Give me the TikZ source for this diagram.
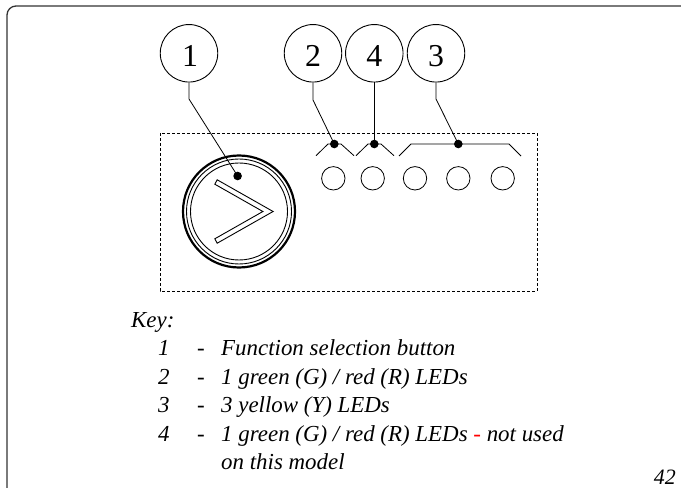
\documentclass[tikz,border=0pt]{standalone}
\usepackage{fontspec}
\setmainfont{Liberation Serif}
\usepackage{xcolor}
\begin{document}
\begin{tikzpicture}[x=1bp,y=-1bp,
  border/.style={draw=black!80,line width=1.3bp,rounded corners=9bp},
  numcirc/.style={circle,draw,line width=0.9bp,minimum size=57.5bp,inner sep=0pt},
  numtxt/.style={inner sep=0pt,anchor=base,font=\fontsize{32}{36}\selectfont},
  lead/.style={line width=0.8bp},
  dotnode/.style={circle,fill,inner sep=0pt,minimum size=8.6bp},
  led/.style={circle,draw,line width=0.8bp,minimum size=23.4bp,inner sep=0pt},
  panel/.style={draw,line width=0.8bp,dash pattern=on 3bp off 2bp},
  bracket/.style={line width=0.8bp},
  keytxt/.style={inner sep=0pt,anchor=base west,font=\fontsize{23}{26}\selectfont\itshape},
]
\useasboundingbox (0,0) rectangle (681,488);
% frame
\draw[border] (7,488) -- (7,6) -- (681,6);
% panel
\draw[panel] (160,133) rectangle (537,291);
% button
\draw[line width=2.2bp] (239,211.5) circle[radius=56];
\draw[line width=0.9bp] (239,211.5) circle[radius=52.5];
\draw[line width=0.9bp] (239,211.5) circle[radius=48.5];
\draw[line width=0.9bp,line join=miter] (217.2,179.8) -- (273.1,211.5) -- (217.2,243.2) -- (214.8,238.8) -- (262.9,211.5) -- (214.8,184.2) -- cycle;
% LEDs
\node[led] (l1) at (333.3,178.3) {};
\node[led] (l2) at (372.7,178.3) {};
\node[led] (l3) at (415,178.3) {};
\node[led] (l4) at (458.3,178.3) {};
\node[led] (l5) at (502.7,178.3) {};
% brackets
\draw[bracket] (316,155.7) -- (328,144) -- (341,144) -- (354,155.7);
\draw[bracket] (356,155.7) -- (368,144) -- (381,144) -- (394,155.7);
\draw[bracket] (399,156) -- (411,144) -- (509,144) -- (521,156);
% dots
\node[dotnode] (d1) at (237.6,176) {};
\node[dotnode] (d2) at (334.3,144) {};
\node[dotnode] (d4) at (374.3,144) {};
\node[dotnode] (d3) at (458.3,144) {};
% callout circles
\node[numcirc] (c1) at (189,53.3) {};
\node[numcirc] (c2) at (313,53.3) {};
\node[numcirc] (c4) at (374.3,53.3) {};
\node[numcirc] (c3) at (436,53.3) {};
\node[numtxt] (t1) at (190,66.5) {1};
\node[numtxt] (t2) at (313,66.5) {2};
\node[numtxt] (t4) at (374.3,66.5) {4};
\node[numtxt] (t3) at (436,66.5) {3};
% leaders
\coordinate (b1) at (189,99);
\coordinate (b2) at (313,100);
\coordinate (b3) at (436,99);
\draw[lead] (c1.south) -- (b1) -- (d1.center);
\draw[lead] (c2.south) -- (b2) -- (d2.center);
\draw[lead] (c4.south) -- (d4.center);
\draw[lead] (c3.south) -- (b3) -- (d3.center);
% key
\node[keytxt] (key) at (131,327) {Key:};
\node[keytxt] (n1) at (158,355.5) {1};
\node[keytxt] (n2) at (158,384.1) {2};
\node[keytxt] (n3) at (158,412.7) {3};
\node[keytxt] (n4) at (158,441.3) {4};
\node[keytxt] (h1) at (197,355.5) {-};
\node[keytxt] (h2) at (197,384.1) {-};
\node[keytxt] (h3) at (197,412.7) {-};
\node[keytxt] (h4) at (197,441.3) {-};
\node[keytxt] (k1) at (221,355.5) {Function selection button};
\node[keytxt] (k2) at (221,384.1) {1 green (G) / red (R) LEDs};
\node[keytxt] (k3) at (221,412.7) {3 yellow (Y) LEDs};
\node[keytxt] (k4) at (221,441.3) {1 green (G) / red (R) LEDs \textcolor{red}{-} not used};
\node[keytxt] (k5) at (221,469.9) {on this model};
\node[inner sep=0pt,anchor=base east,font=\fontsize{22}{26}\selectfont\itshape] (pg) at (676,484) {42};
\end{tikzpicture}
\end{document}
